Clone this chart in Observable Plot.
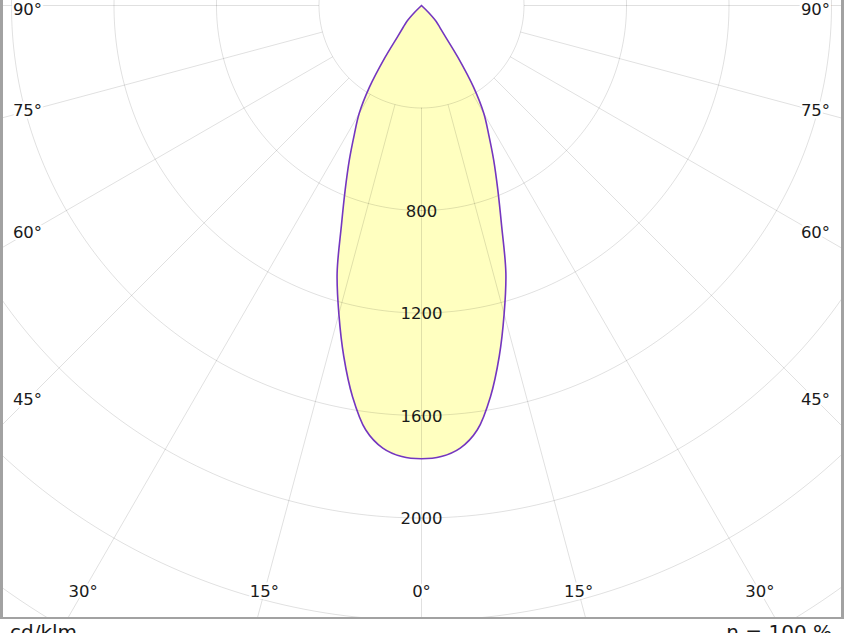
<!DOCTYPE html>
<html>
<head>
<meta charset="utf-8">
<script src="https://cdn.jsdelivr.net/npm/d3@7"></script>
<script src="https://cdn.jsdelivr.net/npm/@observablehq/plot@0.6"></script>
<style>
  html, body { margin: 0; padding: 0; background: #fff; }
  #wrap { position: relative; width: 844px; height: 633px; overflow: hidden; font-family: "DejaVu Sans", Verdana, sans-serif; }
  #frame { position: absolute; left: 0; top: 0; width: 844px; height: 619px; box-sizing: border-box;
           border-left: 3px solid #a2a2a2; border-right: 3px solid #a2a2a2; border-bottom: 2px solid #a2a2a2; pointer-events: none; }
  #caption { position: absolute; left: 0; top: 622px; width: 844px; height: 30px; font-size: 20px; line-height: 20px; color: #1a1a1a; }
  #caption .l { position: absolute; left: 10px; }
  #caption .r { position: absolute; right: 12px; }
  svg text { paint-order: stroke; }
</style>
</head>
<body>
<div id="wrap">
  <div id="chart"></div>
  <div id="frame"></div>
  <div id="caption"><span class="l"></span><span class="r"></span></div>
</div>
<script>
// ---- data ----
const gammaDeg  = [0, 2.5, 5, 7.5, 10, 12.5, 15, 17.5, 20, 22.5, 25, 27.5, 30, 32.5, 35, 37.5, 40, 42.5, 45, 47.5, 50, 60, 70, 80, 90];
const intensity = [1769, 1762, 1734, 1670, 1550, 1402, 1246, 1095, 914, 778, 667, 568, 486, 378, 251, 154, 111, 85, 39, 0, 0, 0, 0, 0, 0];
const ringValues = [400, 800, 1200, 1600, 2000, 2400, 2800];
const ringLabels = [800, 1200, 1600, 2000];
const spokeAngles = [-90, -75, -60, -45, -30, -15, 0, 15, 30, 45, 60, 75, 90];
const unitText = "cd/klm";
const etaText = "η = 100 %";

// ---- layout / scale settings ----
const PX = 0.25625;          // pixels per cd
const CX = 421, CY = 5;      // pole position in pixels
const W = 844, H = 617;
const rad = d => d * Math.PI / 180;

// beam outline: mirror the half-plane values (C0 / C180 identical)
const beam = [];
for (let i = gammaDeg.length - 1; i >= 0; i--) beam.push({a: -gammaDeg[i], I: intensity[i]});
for (let i = 1; i < gammaDeg.length; i++) beam.push({a: gammaDeg[i], I: intensity[i]});
beam.forEach(d => { d.X = d.I * Math.sin(rad(d.a)); d.Y = d.I * Math.cos(rad(d.a)); });

// grid rings
const ringPts = [];
for (const r of ringValues) for (let a = 0; a <= 360; a += 1)
  ringPts.push({ring: r, X: r * Math.sin(rad(a)), Y: r * Math.cos(rad(a))});

// spokes from the first ring outward
const spokes = spokeAngles.map(a => ({
  x1: ringValues[0] * Math.sin(rad(a)), y1: ringValues[0] * Math.cos(rad(a)),
  x2: 4000 * Math.sin(rad(a)), y2: 4000 * Math.cos(rad(a))
}));

// angle labels where each spoke meets an inset rectangle
const sideLim = 394 / PX, bottomLim = 586 / PX, topLim = 4 / PX;
const angleLabels = spokeAngles.map(a => {
  const s = Math.sin(rad(a)), c = Math.cos(rad(a));
  const t = Math.min(Math.abs(s) > 1e-9 ? sideLim / Math.abs(s) : Infinity, c > 1e-9 ? bottomLim / c : Infinity);
  return {X: t * s, Y: Math.max(t * c, topLim), label: Math.abs(a) + "°"};
});

const chart = Plot.plot({
  width: W, height: H, margin: 0,
  x: {domain: [-1600, 1600], range: [CX - 1600 * PX, CX + 1600 * PX], axis: null},
  y: {domain: [0, 2400], range: [CY, CY + 2400 * PX], axis: null},
  style: {fontFamily: "'DejaVu Sans', Verdana, sans-serif", background: "#fff", overflow: "hidden"},
  marks: [
    Plot.line(beam, {x: "X", y: "Y", fill: "#ffffc0", stroke: "none", curve: "catmull-rom"}),
    Plot.line(ringPts, {x: "X", y: "Y", z: "ring", stroke: "#000", strokeOpacity: 0.12, strokeWidth: 1, clip: true}),
    Plot.link(spokes, {x1: "x1", y1: "y1", x2: "x2", y2: "y2", stroke: "#000", strokeOpacity: 0.12, strokeWidth: 1, clip: true}),
    Plot.line(beam, {x: "X", y: "Y", stroke: "#7436c0", strokeWidth: 1.6, curve: "catmull-rom"}),
    Plot.text(ringLabels, {x: () => 0, y: d => d, text: d => String(d), fontSize: 16.5, fill: "#1a1a1a", dy: 1}),
    Plot.text(angleLabels, {x: "X", y: "Y", text: "label", fontSize: 16.5, fill: "#1a1a1a", stroke: "#fff", strokeWidth: 5})
  ]
});
document.getElementById("chart").appendChild(chart);
document.querySelector("#caption .l").textContent = unitText;
document.querySelector("#caption .r").textContent = etaText;
</script>
</body>
</html>
